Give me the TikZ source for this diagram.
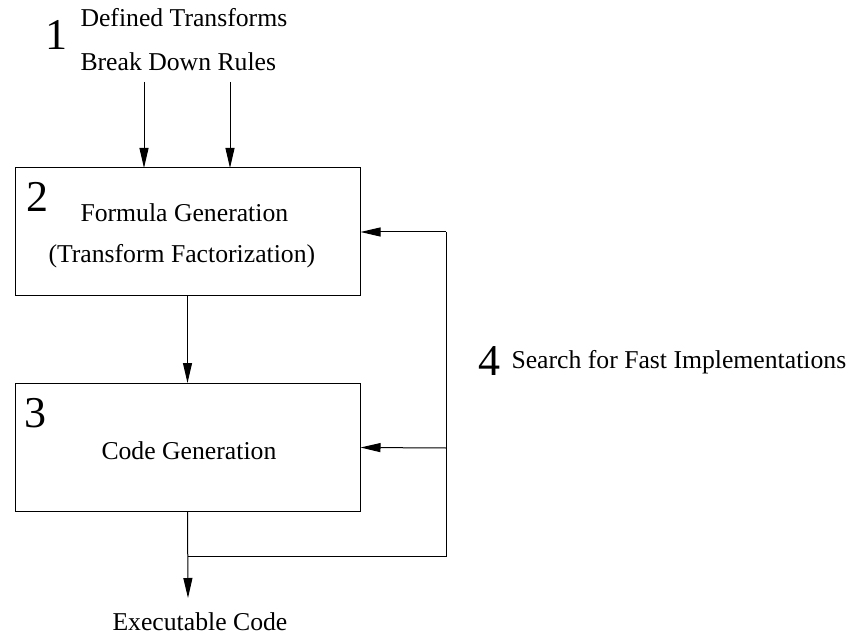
\documentclass[tikz,border=0pt]{standalone}
\usepackage{fontspec}
\setmainfont{Liberation Serif}
\usetikzlibrary{arrows.meta}
\begin{document}
\begin{tikzpicture}[x=0.5pt,y=-0.5pt,
  line width=0.5pt,
  lbl/.style={inner sep=0pt,anchor=base west,font=\fontsize{12.85}{15}\selectfont},
  num/.style={inner sep=0pt,anchor=base west,font=\fontsize{22}{24}\selectfont},
  blk/.style={draw,minimum width=172.5pt,minimum height=64pt,inner sep=0pt},
  arr/.style={-{Triangle[length=10pt,width=4.5pt]}}]
\useasboundingbox (0,0) rectangle (849,635);
% boxes
\node[blk] (box2) at (187.5,232) {};
\node[blk] (box3) at (187.5,447.5) {};
% texts
\node[num] (n1) at (45,50) {1};
\node[lbl] (t1a) at (80,27) {Defined Transforms};
\node[lbl] (t1b) at (80,71) {Break Down Rules};
\node[num] (n2) at (26,212) {2};
\node[lbl] (t2a) at (80,222) {Formula Generation};
\node[lbl] (t2b) at (48,263) {(Transform Factorization)};
\node[num] (n3) at (24.5,427) {3};
\node[lbl] (t3) at (101,459) {Code Generation};
\node[lbl] (out) at (112,630) {Executable Code};
\node[num] (n4) at (478,375) {4};
\node[lbl] (t4) at (511,368) {Search for Fast Implementations};
% coordinates
\coordinate (s1) at (144,82);
\coordinate (s2) at (230,82);
\coordinate (e1) at (144,168);
\coordinate (e2) at (230,168);
\coordinate (j) at (188,556);
\coordinate (tip) at (188,598);
\coordinate (cb) at (446,556);
\coordinate (ct) at (446,232);
\coordinate (cm) at (446,448);
% connectors
\draw[arr] (s1) -- (e1);
\draw[arr] (s2) -- (e2);
\draw[arr] (box2.south) -- (box3.north);
\draw[arr] (box3.south) -- (tip);
\draw (j) -- (cb) -- (ct);
\draw[arr] (ct) -- (box2.east);
\draw[arr] (cm) -- (box3.east);
\end{tikzpicture}
\end{document}
